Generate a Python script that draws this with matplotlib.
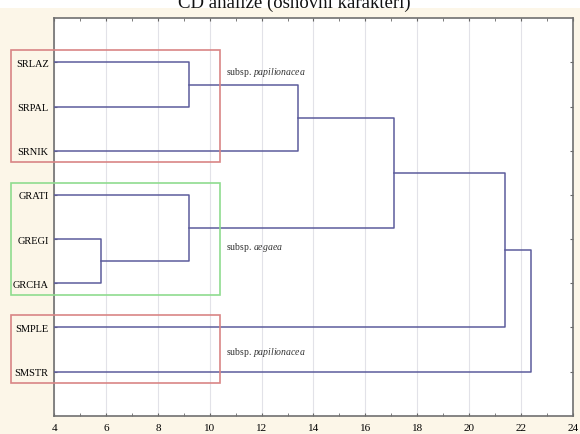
import matplotlib.pyplot as plt
from matplotlib.patches import Rectangle
from matplotlib.ticker import MultipleLocator

# hojas del dendrograma (de arriba hacia abajo)
etiquetas = ['SRLAZ', 'SRPAL', 'SRNIK', 'GRATI', 'GREGI', 'GRCHA', 'SMPLE', 'SMSTR']

# uniones: (cluster izq, cluster der, distancia); los nuevos clusters reciben id 8, 9, ...
uniones_a = [0, 8, 4, 3, 9, 12, 13]
uniones_b = [1, 2, 5, 10, 11, 6, 7]
distancias = [9.2, 13.4, 5.8, 9.2, 17.1, 21.4, 22.4]

# grupos marcados con recuadros
grupos = [['SRLAZ', 'SRPAL', 'SRNIK'], ['GRATI', 'GREGI', 'GRCHA'], ['SMPLE', 'SMSTR']]
nombres_grupo = ['papilionacea', 'aegaea', 'papilionacea']
colores_grupo = ['#d98585', '#8fdc8f', '#d98585']

plt.rcParams['font.family'] = 'Liberation Serif'
plt.rcParams['mathtext.fontset'] = 'custom'
plt.rcParams['mathtext.it'] = 'Liberation Serif:italic'
plt.rcParams['mathtext.rm'] = 'Liberation Serif'

fig = plt.figure(figsize=(5.8, 4.35), dpi=100, facecolor='#fcf6e8')
fig.patches.append(Rectangle((0, 1 - 9 / 435), 1, 9 / 435, transform=fig.transFigure,
                             facecolor='white', edgecolor='none', zorder=0))
ax = fig.add_axes([0.0936, 0.0421, 0.8938, 0.9135])
ax.set_facecolor('white')

xmin, xmax = 4, 24
color_linea = '#5c5c9c'

# posición de cada cluster: (y, x)
pos = {i: (i + 1, xmin) for i in range(len(etiquetas))}
for k, (a, b, d) in enumerate(zip(uniones_a, uniones_b, distancias)):
    ya, xa = pos[a]
    yb, xb = pos[b]
    ax.plot([xa, d, d, xb], [ya, ya, yb, yb], color=color_linea, lw=1.1, zorder=3)
    pos[len(etiquetas) + k] = ((ya + yb) / 2, d)

ax.set_xlim(xmin, xmax)
ax.set_ylim(len(etiquetas) + 1, 0)
ax.set_yticks(range(1, len(etiquetas) + 1))
ax.set_yticklabels(etiquetas, fontsize=7.5)
ax.xaxis.set_major_locator(MultipleLocator(2))
ax.xaxis.set_minor_locator(MultipleLocator(1))
ax.tick_params(axis='x', which='both', direction='in', top=True, labelsize=8,
               length=2.5, color='#666666', pad=5)
ax.tick_params(axis='y', direction='in', right=True, length=2.5, color='#666666', pad=4)
ax.grid(axis='x', which='major', color='#e2e2e8', lw=0.8, zorder=0)
for s in ax.spines.values():
    s.set_color('#707070')
    s.set_linewidth(1.2)

# recuadros de los grupos y rótulos (el rótulo va a la derecha del recuadro)
desplaz_rotulo = [-0.8, 0.16, 0.04]
for grupo, nombre, col, dy in zip(grupos, nombres_grupo, colores_grupo, desplaz_rotulo):
    ys = [etiquetas.index(g) + 1 for g in grupo]
    y0 = min(ys) - 0.28
    y1 = max(ys) + 0.26
    ax.add_patch(Rectangle((2.33, y0), 10.38 - 2.33, y1 - y0, fill=False, edgecolor=col,
                           lw=1.2, clip_on=False, zorder=4))
    ax.text(10.62, (min(ys) + max(ys)) / 2 + dy, 'subsp. $\\it{' + nombre + '}$',
            fontsize=7, va='center', color='#333333')

fig.text(0.507, 1 - 8 / 435, 'CD analize (osnovni karakteri)', ha='center', va='baseline',
         fontsize=13.5, color='#111111')

fig.savefig('out.png', dpi=100, facecolor=fig.get_facecolor())
